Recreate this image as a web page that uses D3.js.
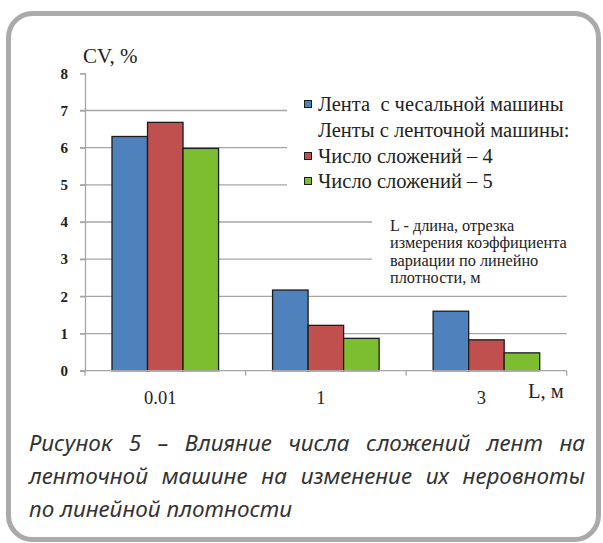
<!DOCTYPE html>
<html>
<head>
<meta charset="utf-8">
<script src="https://cdn.jsdelivr.net/npm/d3@7"></script>
<style>
  body { margin: 0; background: #fff; }
  svg { display: block; }
</style>
</head>
<body>
<svg id="chart" width="603" height="543"></svg>
<script>
// Data
const categories = ['0.01', '1', '3'];
const seriesKeys = ['carding', 'doublings4', 'doublings5'];
const cardingValues = [6.3, 2.17, 1.6];
const doublings4Values = [6.68, 1.22, 0.83];
const doublings5Values = [5.98, 0.87, 0.48];
const yTicks = [0, 1, 2, 3, 4, 5, 6, 7, 8];
const legendLabels = ['Лента  с чесальной машины', 'Ленты с ленточной машины:', 'Число сложений – 4', 'Число сложений – 5'];
const legendKeys = ['carding', null, 'doublings4', 'doublings5'];
const noteLines = ['L - длина, отрезка', 'измерения коэффициента', 'вариации по линейно', 'плотности, м'];
const captionLines = [
  'Рисунок 5 – Влияние числа сложений лент на',
  'ленточной машине на изменение их неровноты',
  'по линейной плотности'
];

const seriesValues = {
  carding: cardingValues,
  doublings4: doublings4Values,
  doublings5: doublings5Values
};
const colors = { carding: '#4f81bd', doublings4: '#c0504d', doublings5: '#7dbd30' };

const svg = d3.select('#chart');
const serif = "'Liberation Serif', 'Times New Roman', serif";
const gridColor = '#a6a6a6';

// Frame
svg.append('rect')
  .attr('x', 8.5).attr('y', 13.5)
  .attr('width', 590).attr('height', 526)
  .attr('rx', 24)
  .attr('fill', '#fff')
  .attr('stroke', '#aaaaaa')
  .attr('stroke-width', 5);

// Scales
const x0 = d3.scaleBand().domain(categories).range([85, 566.7]).padding(0);
const x1 = d3.scaleBand().domain(seriesKeys).range([27, x0.bandwidth() - 27]).padding(0);
const y = d3.scaleLinear().domain([0, 8]).range([370.7, 73.3]);

// Grid lines (1..7)
svg.append('g')
  .selectAll('line')
  .data(yTicks.filter(t => t > 0 && t < 8))
  .join('line')
  .attr('x1', 80).attr('x2', 566.7)
  .attr('y1', d => y(d)).attr('y2', d => y(d))
  .attr('stroke', gridColor).attr('stroke-width', 1.3);

// Y axis
const yAxis = svg.append('g')
  .attr('transform', 'translate(85,0)')
  .call(d3.axisLeft(y).tickValues(yTicks).tickSize(5).tickPadding(12).tickFormat(d3.format('d')));
yAxis.attr('font-family', serif);
yAxis.select('.domain').attr('stroke', gridColor).attr('stroke-width', 1.3);
yAxis.selectAll('.tick line').attr('stroke', gridColor).attr('stroke-width', 1.3);
yAxis.selectAll('.tick text')
  .attr('font-family', serif).attr('font-size', 15).attr('font-weight', 'bold')
  .attr('fill', '#222');

// White boxes behind legend and note
svg.append('rect').attr('x', 287).attr('y', 92).attr('width', 282).attr('height', 104).attr('fill', '#fff');
svg.append('rect').attr('x', 372).attr('y', 212).attr('width', 197).attr('height', 78).attr('fill', '#fff');

// Bars
const groups = svg.append('g')
  .selectAll('g')
  .data(categories)
  .join('g')
  .attr('transform', d => `translate(${x0(d)},0)`);

groups.selectAll('rect')
  .data((d, i) => seriesKeys.map(k => ({ key: k, value: seriesValues[k][i] })))
  .join('rect')
  .attr('x', d => x1(d.key))
  .attr('y', d => y(d.value))
  .attr('width', x1.bandwidth())
  .attr('height', d => y(0) - y(d.value))
  .attr('fill', d => colors[d.key])
  .attr('stroke', '#1c1c1c')
  .attr('stroke-width', 1.3);

// X axis
const xAxis = svg.append('g')
  .attr('transform', `translate(0,${y(0)})`)
  .call(d3.axisBottom(x0).tickSize(0).tickPadding(20));
xAxis.attr('font-family', serif);
xAxis.select('.domain').remove();
svg.append('line')
  .attr('x1', 80).attr('x2', 566.7)
  .attr('y1', y(0)).attr('y2', y(0))
  .attr('stroke', gridColor).attr('stroke-width', 1.3);
svg.append('g')
  .selectAll('line')
  .data(categories.concat(['end']))
  .join('line')
  .attr('x1', (d, i) => i < categories.length ? x0(d) : x0.range()[1])
  .attr('x2', (d, i) => i < categories.length ? x0(d) : x0.range()[1])
  .attr('y1', y(0)).attr('y2', y(0) + 5)
  .attr('stroke', gridColor).attr('stroke-width', 1.3);
xAxis.selectAll('.tick text')
  .attr('dx', -5)
  .attr('font-family', serif).attr('font-size', 18.5)
  .attr('fill', '#222');

// Axis titles
svg.append('text')
  .attr('x', 83).attr('y', 63)
  .attr('font-family', serif).attr('font-size', 21)
  .attr('fill', '#222')
  .text('CV, %');
svg.append('text')
  .attr('x', 528).attr('y', 398)
  .attr('font-family', serif).attr('font-size', 20.5)
  .attr('fill', '#222')
  .text('L, м');

// Legend
const legendRowY = [111, 137, 163, 188];
const legend = svg.append('g');
legendLabels.forEach((label, i) => {
  const key = legendKeys[i];
  if (key) {
    legend.append('rect')
      .attr('x', 304.5).attr('y', legendRowY[i] - 10.5)
      .attr('width', 7).attr('height', 7)
      .attr('fill', colors[key])
      .attr('stroke', '#1c1c1c').attr('stroke-width', 1);
  }
  legend.append('text')
    .attr('x', 318).attr('y', legendRowY[i])
    .attr('font-family', serif).attr('font-size', 20.5)
    .attr('fill', '#222')
    .style('white-space', 'pre')
    .text(label);
});

// Note
svg.append('g')
  .selectAll('text')
  .data(noteLines)
  .join('text')
  .attr('x', 390)
  .attr('y', (d, i) => 231 + i * 17.4)
  .attr('font-family', serif).attr('font-size', 16.3)
  .attr('fill', '#222')
  .text(d => d);

// Caption: justified lines (last line left aligned)
const capLeft = 29, capRight = 585;
const caption = svg.append('g')
  .attr('font-family', "'Noto Sans', 'Open Sans', sans-serif")
  .attr('font-style', 'italic')
  .attr('font-size', 22.5)
  .attr('fill', '#333');
captionLines.forEach((line, li) => {
  const yPos = 451 + li * 33;
  const words = line.split(' ');
  if (li === captionLines.length - 1) {
    caption.append('text').attr('x', capLeft).attr('y', yPos).text(line);
    return;
  }
  const nodes = words.map(w => caption.append('text').attr('y', yPos).text(w));
  const widths = nodes.map(n => n.node().getComputedTextLength());
  const gap = (capRight - capLeft - d3.sum(widths)) / (words.length - 1);
  let cx = capLeft;
  nodes.forEach((n, i) => {
    n.attr('x', cx);
    cx += widths[i] + gap;
  });
});
</script>
</body>
</html>
